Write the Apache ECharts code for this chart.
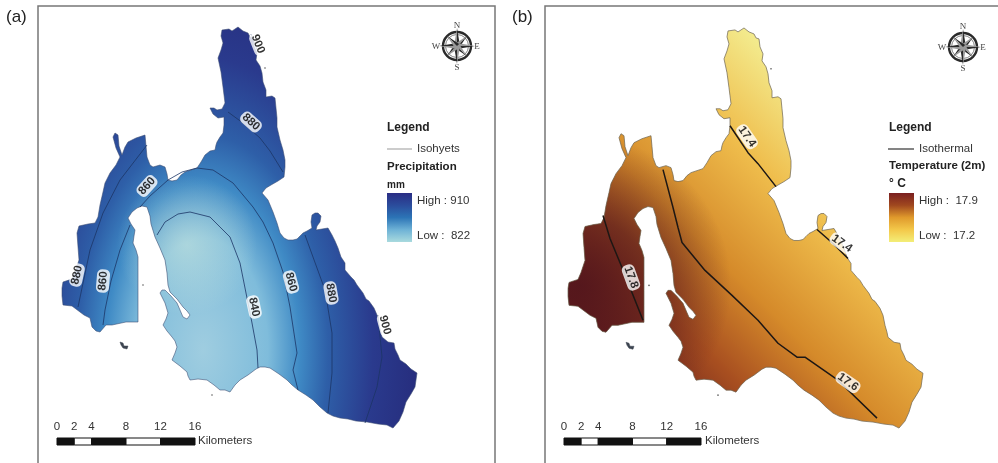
<!DOCTYPE html>
<html><head><meta charset="utf-8">
<style>html,body{margin:0;padding:0;background:#fff}#c{width:998px;height:463px}</style>
<script src="https://cdn.jsdelivr.net/npm/echarts@6/dist/echarts.min.js"></script>
</head><body><div id="c"></div>
<script>
// Island coastline (map units = panel (a) pixels), clockwise from the north tip
const coastline = [
[222,30],[229,29],[232,31],[238,27],[243,31],[248,33],[250,37],[253,38],[254,46],[257,53],[256,60],[260,66],[262,73],[263,82],[266,90],[266,97],[272,96],[275,98],[276,108],[277,118],[277,127],[280,140],[283,150],[285,160],[285,167],[284,177],[278,181],[271,185],[266,188],[262,193],[268,200],[273,212],[277,223],[280,233],[284,238],[288,240],[293,240],[297,239],[300,236],[303,233],[307,231],[312,228],[311,222],[312,215],[315,213],[318,213],[321,216],[320,222],[317,226],[316,230],[322,229],[328,228],[332,235],[335,241],[338,248],[341,257],[345,263],[345,270],[351,277],[354,280],[357,285],[363,293],[366,299],[369,301],[374,308],[377,315],[379,325],[381,332],[382,337],[388,342],[394,343],[395,349],[398,355],[400,360],[406,364],[411,369],[417,373],[416,380],[415,387],[411,394],[406,402],[403,412],[399,421],[393,428],[387,425],[378,424],[367,422],[356,421],[348,419],[340,418],[333,416],[327,413],[320,407],[313,400],[306,395],[298,390],[292,385],[287,380],[279,374],[270,368],[265,367],[260,367],[256,369],[248,375],[240,380],[235,385],[230,392],[225,390],[220,390],[214,385],[207,380],[198,379],[190,380],[188,376],[187,372],[180,366],[172,360],[175,353],[177,347],[175,341],[172,337],[167,331],[163,325],[166,319],[168,313],[165,303],[160,293],[162,290],[165,290],[171,296],[177,303],[180,310],[183,317],[187,319],[190,315],[187,311],[183,307],[177,299],[170,292],[168,285],[167,273],[165,260],[160,248],[155,237],[151,224],[150,216],[147,207],[142,206],[137,208],[132,212],[128,218],[131,224],[135,230],[134,236],[133,243],[136,250],[138,257],[138,275],[138,290],[138,305],[138,322],[126,322],[112,325],[106,325],[100,332],[96,331],[92,327],[90,318],[84,315],[80,312],[72,306],[63,305],[62,296],[62,288],[63,282],[72,279],[75,272],[79,260],[78,247],[77,233],[79,226],[88,224],[95,223],[98,217],[100,205],[103,192],[105,183],[110,173],[116,165],[120,157],[116,148],[113,137],[115,133],[118,135],[119,146],[122,155],[125,147],[128,142],[136,138],[145,135],[146,146],[147,157],[150,165],[153,167],[160,165],[165,167],[167,174],[168,180],[172,181],[177,180],[181,175],[185,172],[191,170],[197,168],[201,162],[205,155],[210,151],[215,150],[216,145],[217,142],[220,137],[223,133],[224,125],[224,117],[218,118],[213,114],[210,108],[214,108],[217,110],[222,109],[225,103],[224,95],[223,87],[221,72],[218,58],[221,50],[223,43],[221,36],[222,30]
];
const islet = [[120,342],[123,343],[124,346],[128,346],[127,349],[123,348],[121,345]];
const specks = [[212,395],[265,68],[143,285]];

// Isohyets (mm) of panel (a)
const iso900North = [[251,34],[254,42],[258,52]];
const iso880North = [[228,112],[243,123],[260,138],[270,151],[283,172]];
const iso860Main = [[140,207],[150,196],[168,180],[182,172],[197,168],[213,170],[233,183],[253,207],[263,222],[273,243],[283,272],[290,307],[297,353],[293,370],[298,390]];
const iso860West = [[130,225],[120,250],[111,281],[105,310],[103,325]];
const iso880West = [[147,145],[120,180],[103,213],[90,250],[78,307]];
const iso840 = [[157,235],[165,222],[178,214],[190,212],[210,217],[230,237],[240,263],[248,303],[252,323],[257,350],[258,368]];
const iso880East = [[305,235],[313,257],[325,290],[332,333],[332,373],[328,413]];
const iso900East = [[378,315],[382,357],[377,387],[365,423]];
const isohyets = [iso900North, iso880North, iso860Main, iso860West, iso880West, iso840, iso880East, iso900East];
// label: x, y, text, clockwise angle
const isohyetLabels = [[258,44,'900',68],[251,122,'880',42],[147,186,'860',-48],[77,275,'880',-78],[103,281,'860',-85],[254,307,'840',78],[291,282,'860',75],[331,293,'880',80],[385,325,'900',75]];

// Isotherms (deg C) of panel (b)
const isoT174North = [[224,125],[242,152],[252,163],[270,186]];
const isoT174East = [[311,229],[327,243],[342,258]];
const isoT176 = [[157,169],[167,207],[172,227],[176,242],[199,270],[226,295],[252,320],[272,343],[291,357],[299,357],[332,380],[371,418]];
const isoT178 = [[97,215],[104,238],[116,267],[137,320]];
const isotherms = [isoT174North, isoT174East, isoT176, isoT178];
const isothermLabels = [[241,136,'17.4',55],[336,243,'17.4',35],[342,382,'17.6',35],[125,277,'17.8',70]];

const scaleTicks = [0,2,4,8,12,16];

const precipRadii = [0,65,97,125,170,220];
const precipColors = ['#9fcde0','#7fbcdb','#3f8ac5','#2e5fa8','#2a3a8d','#262c7c'];
const tempPos = [-230,-150,-45,90,210];
const tempColors = ['#7a2c1e','#a84f20','#d58a2a','#efbd4c','#f3ea8c'];

const FONT = '"Liberation Sans", Arial, sans-serif';
const chart = echarts.init(document.getElementById('c'));

function mapPts(api){ return coastline.map(p => api.coord(p)); }

function renderPrecip(params, api){
  const pts = mapPts(api);
  const c = api.coord([203,350]); const k = 1.72;
  const local = pts.map(p => [p[0], c[1] + (p[1]-c[1])/k]);
  const stops = precipRadii.map((r,i)=>({offset:r/220,color:precipColors[i]}));
  const g = api.coord([187,245]);
  return {type:'group',children:[
    {type:'polygon',shape:{points:local},scaleY:k,originX:c[0],originY:c[1],
     style:{fill:{type:'radial',x:c[0],y:c[1],r:220,global:true,colorStops:stops}}},
    {type:'polygon',shape:{points:pts},
     style:{fill:{type:'radial',x:g[0],y:g[1],r:70,global:true,colorStops:[{offset:0,color:'rgba(200,230,222,0.6)'},{offset:1,color:'rgba(200,230,222,0)'}]}}},
    {type:'polygon',shape:{points:pts},style:{fill:'none',stroke:'#3a4a70',lineWidth:0.7,opacity:0.8}}
  ]};
}
function renderTemp(params, api){
  const pts = mapPts(api);
  const a = api.coord([-15,215]), b = api.coord([205,-5]);
  const stops = tempPos.map((v,i)=>({offset:(v+230)/440,color:tempColors[i]}));
  const w = api.coord([75,285]);
  return {type:'group',children:[
    {type:'polygon',shape:{points:pts},
     style:{fill:{type:'linear',x:a[0],y:a[1],x2:b[0],y2:b[1],global:true,colorStops:stops}}},
    {type:'polygon',shape:{points:pts},
     style:{fill:{type:'radial',x:w[0],y:w[1],r:150,global:true,colorStops:[
       {offset:0,color:'rgba(80,20,28,0.9)'},{offset:0.45,color:'rgba(80,20,28,0.65)'},{offset:1,color:'rgba(80,20,28,0)'}]}}},
    {type:'polygon',shape:{points:pts},style:{fill:'none',stroke:'#6b6350',lineWidth:0.7}}
  ]};
}
function renderIslet(params, api){
  return {type:'polygon',shape:{points:islet.map(p=>api.coord(p))},style:{fill:'#3c4450',stroke:'#3c4450',lineWidth:0.5}};
}
function renderScale(params, api){
  const kids = [];
  for(let i=0;i<scaleTicks.length-1;i++){
    const a = api.coord([scaleTicks[i],0]), b = api.coord([scaleTicks[i+1],1]);
    kids.push({type:'rect',shape:{x:a[0],y:b[1],width:b[0]-a[0],height:a[1]-b[1]},
      style:{fill:i%2?'#fff':'#111',stroke:'#111',lineWidth:1}});
  }
  return {type:'group',children:kids};
}
function lineSeries(data, idx, color, width){
  return {type:'line',xAxisIndex:idx,yAxisIndex:idx,data,symbol:'none',silent:true,z:5,
    lineStyle:{color,width},clip:false};
}
function labelSeries(rows, idx){
  return {type:'scatter',xAxisIndex:idx,yAxisIndex:idx,symbolSize:0,silent:true,z:8,clip:false,
    data:rows.map(r=>({value:[r[0],r[1]],label:{show:true,position:'inside',formatter:r[2],rotate:-r[3],
      color:'#000',fontFamily:FONT,fontSize:11.5,fontWeight:'bold',backgroundColor:'#fff',borderRadius:5,padding:[1,2,0,2]}}))};
}
function hiddenAxis(gridIndex,min,max,inverse){
  return {type:'value',gridIndex,min,max,inverse:!!inverse,show:false,scale:true};
}
function scaleAxis(gridIndex){
  return {type:'value',gridIndex,min:0,max:16,position:'top',
    axisLine:{show:false},axisTick:{show:false},splitLine:{show:false},
    axisLabel:{show:true,customValues:scaleTicks,margin:5,color:'#333',fontFamily:FONT,fontSize:11.5,hideOverlap:false}};
}
function txt(x,y,t,size,bold,color){
  return {type:'text',x,y,silent:true,style:{text:t,fontFamily:FONT,fontSize:size,fontWeight:bold?'bold':'normal',fill:color||'#333',verticalAlign:'middle'}};
}
function frame(x,y,w,h){
  return {type:'rect',silent:true,shape:{x,y,width:w,height:h},style:{fill:'none',stroke:'#777',lineWidth:1.5},z:0};
}
function ramp(x,colors){
  return {type:'rect',silent:true,shape:{x,y:193,width:25,height:49},
    style:{fill:{type:'linear',x:0,y:0,x2:0,y2:1,colorStops:colors.map((c,i)=>({offset:i/(colors.length-1),color:c}))}}};
}
function compass(cx,cy,color){
  const kids=[];
  kids.push({type:'circle',shape:{cx,cy,r:14},style:{fill:'none',stroke:color,lineWidth:2.4}});
  kids.push({type:'circle',shape:{cx,cy,r:11.5},style:{fill:'none',stroke:color,lineWidth:0.6}});
  const dirs=[0,45,90,135,180,225,270,315];
  dirs.forEach(d=>{
    const L=d%90===0?18:14, W=3, t=d*Math.PI/180;
    const ux=Math.sin(t), uy=-Math.cos(t), vx=-uy, vy=ux;
    kids.push({type:'polygon',shape:{points:[[cx+ux*L,cy+uy*L],[cx+vx*W,cy+vy*W],[cx,cy]]},style:{fill:color}});
    kids.push({type:'polygon',shape:{points:[[cx+ux*L,cy+uy*L],[cx-vx*W,cy-vy*W],[cx,cy]]},style:{fill:'#999'}});
  });
  const f='"Liberation Serif",serif';
  [['N',0,-20],['S',0,22],['W',-21,1],['E',20,1]].forEach(l=>{
    kids.push({type:'text',x:cx+l[1],y:cy+l[2],style:{text:l[0],fontFamily:f,fontSize:9,fill:'#444',align:'center',verticalAlign:'middle'}});
  });
  return {type:'group',silent:true,children:kids};
}

chart.setOption({
  animation:false,
  backgroundColor:'#fff',
  grid:[
    {left:0,top:0,width:998,height:463},
    {left:506,top:1,width:492,height:463},
    {left:57,top:438,width:138,height:7},
    {left:564,top:438,width:137,height:7}
  ],
  xAxis:[hiddenAxis(0,0,998),hiddenAxis(1,0,492),scaleAxis(2),scaleAxis(3)],
  yAxis:[hiddenAxis(0,0,463,true),hiddenAxis(1,0,463,true),hiddenAxis(2,0,1),hiddenAxis(3,0,1)],
  series:[
    {type:'custom',xAxisIndex:0,yAxisIndex:0,data:[[0,0]],renderItem:renderPrecip,clip:false,silent:true,z:3},
    {type:'custom',xAxisIndex:1,yAxisIndex:1,data:[[0,0]],renderItem:renderTemp,clip:false,silent:true,z:3},
    {type:'custom',xAxisIndex:0,yAxisIndex:0,data:[[0,0]],renderItem:renderIslet,clip:false,silent:true,z:3},
    {type:'custom',xAxisIndex:1,yAxisIndex:1,data:[[0,0]],renderItem:renderIslet,clip:false,silent:true,z:3},
    {type:'scatter',xAxisIndex:0,yAxisIndex:0,data:specks,symbolSize:1.6,itemStyle:{color:'#333'},silent:true,z:3},
    {type:'scatter',xAxisIndex:1,yAxisIndex:1,data:specks,symbolSize:1.6,itemStyle:{color:'#333'},silent:true,z:3},
    ...isohyets.map(d=>lineSeries(d,0,'#1c3566',0.8)),
    ...isotherms.map(d=>lineSeries(d,1,'#1d1714',1.5)),
    labelSeries(isohyetLabels,0),
    labelSeries(isothermLabels,1),
    {type:'custom',xAxisIndex:2,yAxisIndex:2,data:[[0,0]],renderItem:renderScale,clip:false,silent:true,z:3},
    {type:'custom',xAxisIndex:3,yAxisIndex:3,data:[[0,0]],renderItem:renderScale,clip:false,silent:true,z:3}
  ],
  graphic:[
    frame(38,6,457,460),
    frame(545,6,460,460),
    txt(6,17,'(a)',17,false,'#222'),
    txt(512,17,'(b)',17,false,'#222'),
    compass(457,46,'#2a2a2a'),
    compass(963,47,'#2a2a2a'),
    txt(387,128,'Legend',12,true,'#222'),
    {type:'line',silent:true,shape:{x1:387,y1:149,x2:412,y2:149},style:{stroke:'#aaa',lineWidth:1.2}},
    txt(417,149,'Isohyets',11.5),
    txt(387,167,'Precipitation',11.5,true,'#222'),
    txt(387,185,'mm',10,true,'#222'),
    ramp(387,['#2a2d84','#2b4c9c','#2c74b6','#6eb2d6','#a9dade']),
    txt(417,201,'High : 910',11.5),
    txt(417,236,'Low :  822',11.5),
    txt(889,128,'Legend',12,true,'#222'),
    {type:'line',silent:true,shape:{x1:888,y1:149,x2:914,y2:149},style:{stroke:'#333',lineWidth:1.2}},
    txt(919,149,'Isothermal',11.5),
    txt(889,166,'Temperature (2m)',11.5,true,'#222'),
    txt(889,184,'° C',12,true,'#222'),
    ramp(889,['#7a1f20','#a0481f','#e09a2c','#f3c84a','#f3ee78']),
    txt(919,201,'High :  17.9',11.5),
    txt(919,236,'Low :  17.2',11.5),
    txt(198,441,'Kilometers',11.5),
    txt(705,441,'Kilometers',11.5)
  ]
});
</script></body></html>
